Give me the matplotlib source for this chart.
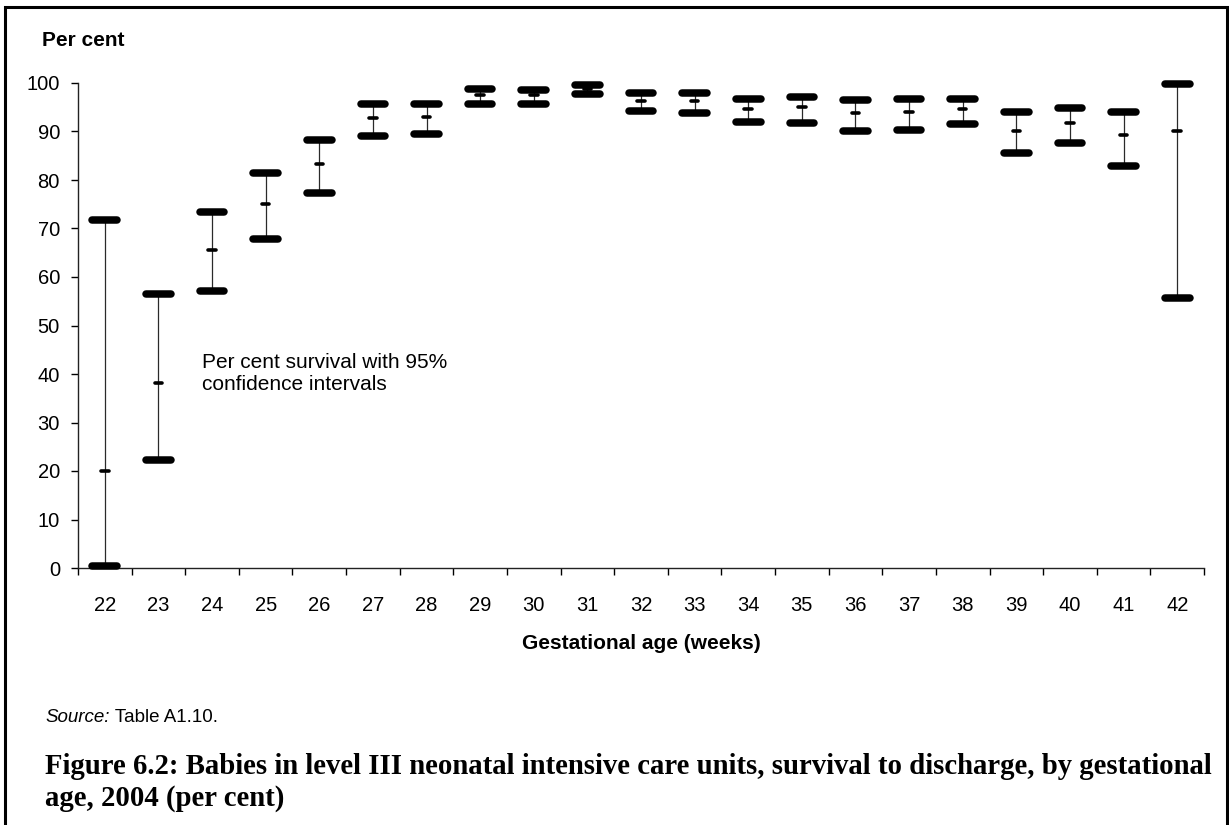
"""Survival to discharge by gestational age, with 95% CIs (high-low-mid chart)."""

import matplotlib

matplotlib.use("Agg")
import matplotlib.pyplot as plt
import numpy as np
from matplotlib.patches import Rectangle
from matplotlib.ticker import FixedLocator

# weeks of gestation
weeks = [22, 23, 24, 25, 26, 27, 28, 29, 30, 31, 32, 33, 34, 35, 36, 37, 38, 39, 40, 41, 42]
# per cent survival and 95% confidence limits
survival = [20.0, 38.1, 65.6, 75.1, 83.4, 92.8, 93.0, 97.5, 97.5, 98.8, 96.3, 96.3,
            94.7, 95.0, 93.9, 94.1, 94.6, 90.2, 91.7, 89.3, 90.2]
ci_upper = [71.8, 56.5, 73.5, 81.4, 88.3, 95.6, 95.6, 98.8, 98.5, 99.5, 97.9, 98.0,
            96.8, 97.2, 96.4, 96.7, 96.8, 94.0, 94.9, 94.0, 99.7]
ci_lower = [0.5, 22.3, 57.2, 67.8, 77.4, 89.1, 89.5, 95.7, 95.7, 97.7, 94.3, 93.9,
            92.0, 91.8, 90.2, 90.4, 91.5, 85.5, 87.6, 82.8, 55.6]

plt.rcParams["font.family"] = ["Liberation Sans", "DejaVu Sans"]

W, H = 1229, 825
fig = plt.figure(figsize=(W / 100, H / 100), dpi=100)
ax = fig.add_axes([78 / W, 1 - 568 / H, (1204 - 78) / W, (568 - 83) / H])

x = np.arange(len(weeks))
cap_w = 0.23
mid_w = 0.07

ax.vlines(x, ci_lower, ci_upper, color="#2a2a2a", lw=0.9, zorder=2, clip_on=False)
for vals in (ci_upper, ci_lower):
    caps = ax.hlines(vals, x - cap_w, x + cap_w, color="black", lw=5.4, zorder=3, clip_on=False)
    caps.set_capstyle("round")
mids = ax.hlines(survival, x - mid_w, x + mid_w, color="black", lw=2.6, zorder=4)
mids.set_capstyle("round")

ax.set_xlim(-0.5, len(weeks) - 0.5)
ax.set_ylim(0, 100)
ax.set_yticks(range(0, 101, 10))
ax.set_xticks(x)
ax.set_xticklabels([str(w) for w in weeks])
ax.xaxis.set_minor_locator(FixedLocator(np.arange(-0.5, len(weeks), 1.0)))
ax.tick_params(axis="x", which="major", length=0, pad=20, labelsize=14.5)
ax.tick_params(axis="x", which="minor", length=5, width=1, direction="out")
ax.tick_params(axis="y", length=5, width=1, direction="out", pad=8, labelsize=14.5)

for side in ("top", "right"):
    ax.spines[side].set_visible(False)
for side in ("left", "bottom"):
    ax.spines[side].set_linewidth(1)
    ax.spines[side].set_color("#222222")

ax.set_xlabel("Gestational age (weeks)", fontsize=15, fontweight="bold", labelpad=14)

fig.text(42 / W, 1 - 40 / H, "Per cent", fontsize=15, fontweight="bold", va="center")
fig.text(202 / W, 1 - 374 / H, "Per cent survival with 95%\nconfidence intervals",
         fontsize=15, va="center", linespacing=1.2)

# "Source:" italic, the rest upright, placed right after it
src = fig.text(45 / W, 1 - 718 / H, "Source:", fontsize=13.5, style="italic", va="center")
ax.annotate(" Table A1.10.", xy=(1, 0.5), xycoords=src, va="center", ha="left",
            fontsize=13.5, annotation_clip=False)

title_font = dict(fontsize=20.7, fontweight="bold", family=["Liberation Serif", "DejaVu Serif"],
                  va="center")
fig.text(45 / W, 1 - 767 / H,
         "Figure 6.2: Babies in level III neonatal intensive care units, survival to discharge, by gestational",
         **title_font)
fig.text(45 / W, 1 - 798 / H, "age, 2004 (per cent)", **title_font)

# frame round the whole figure
fig.patches.append(Rectangle((5 / W, -0.01), 1222 / W, 1.01 - 7 / H, transform=fig.transFigure,
                             fill=False, lw=2.2, edgecolor="black"))

fig.savefig("out.png", dpi=100)
